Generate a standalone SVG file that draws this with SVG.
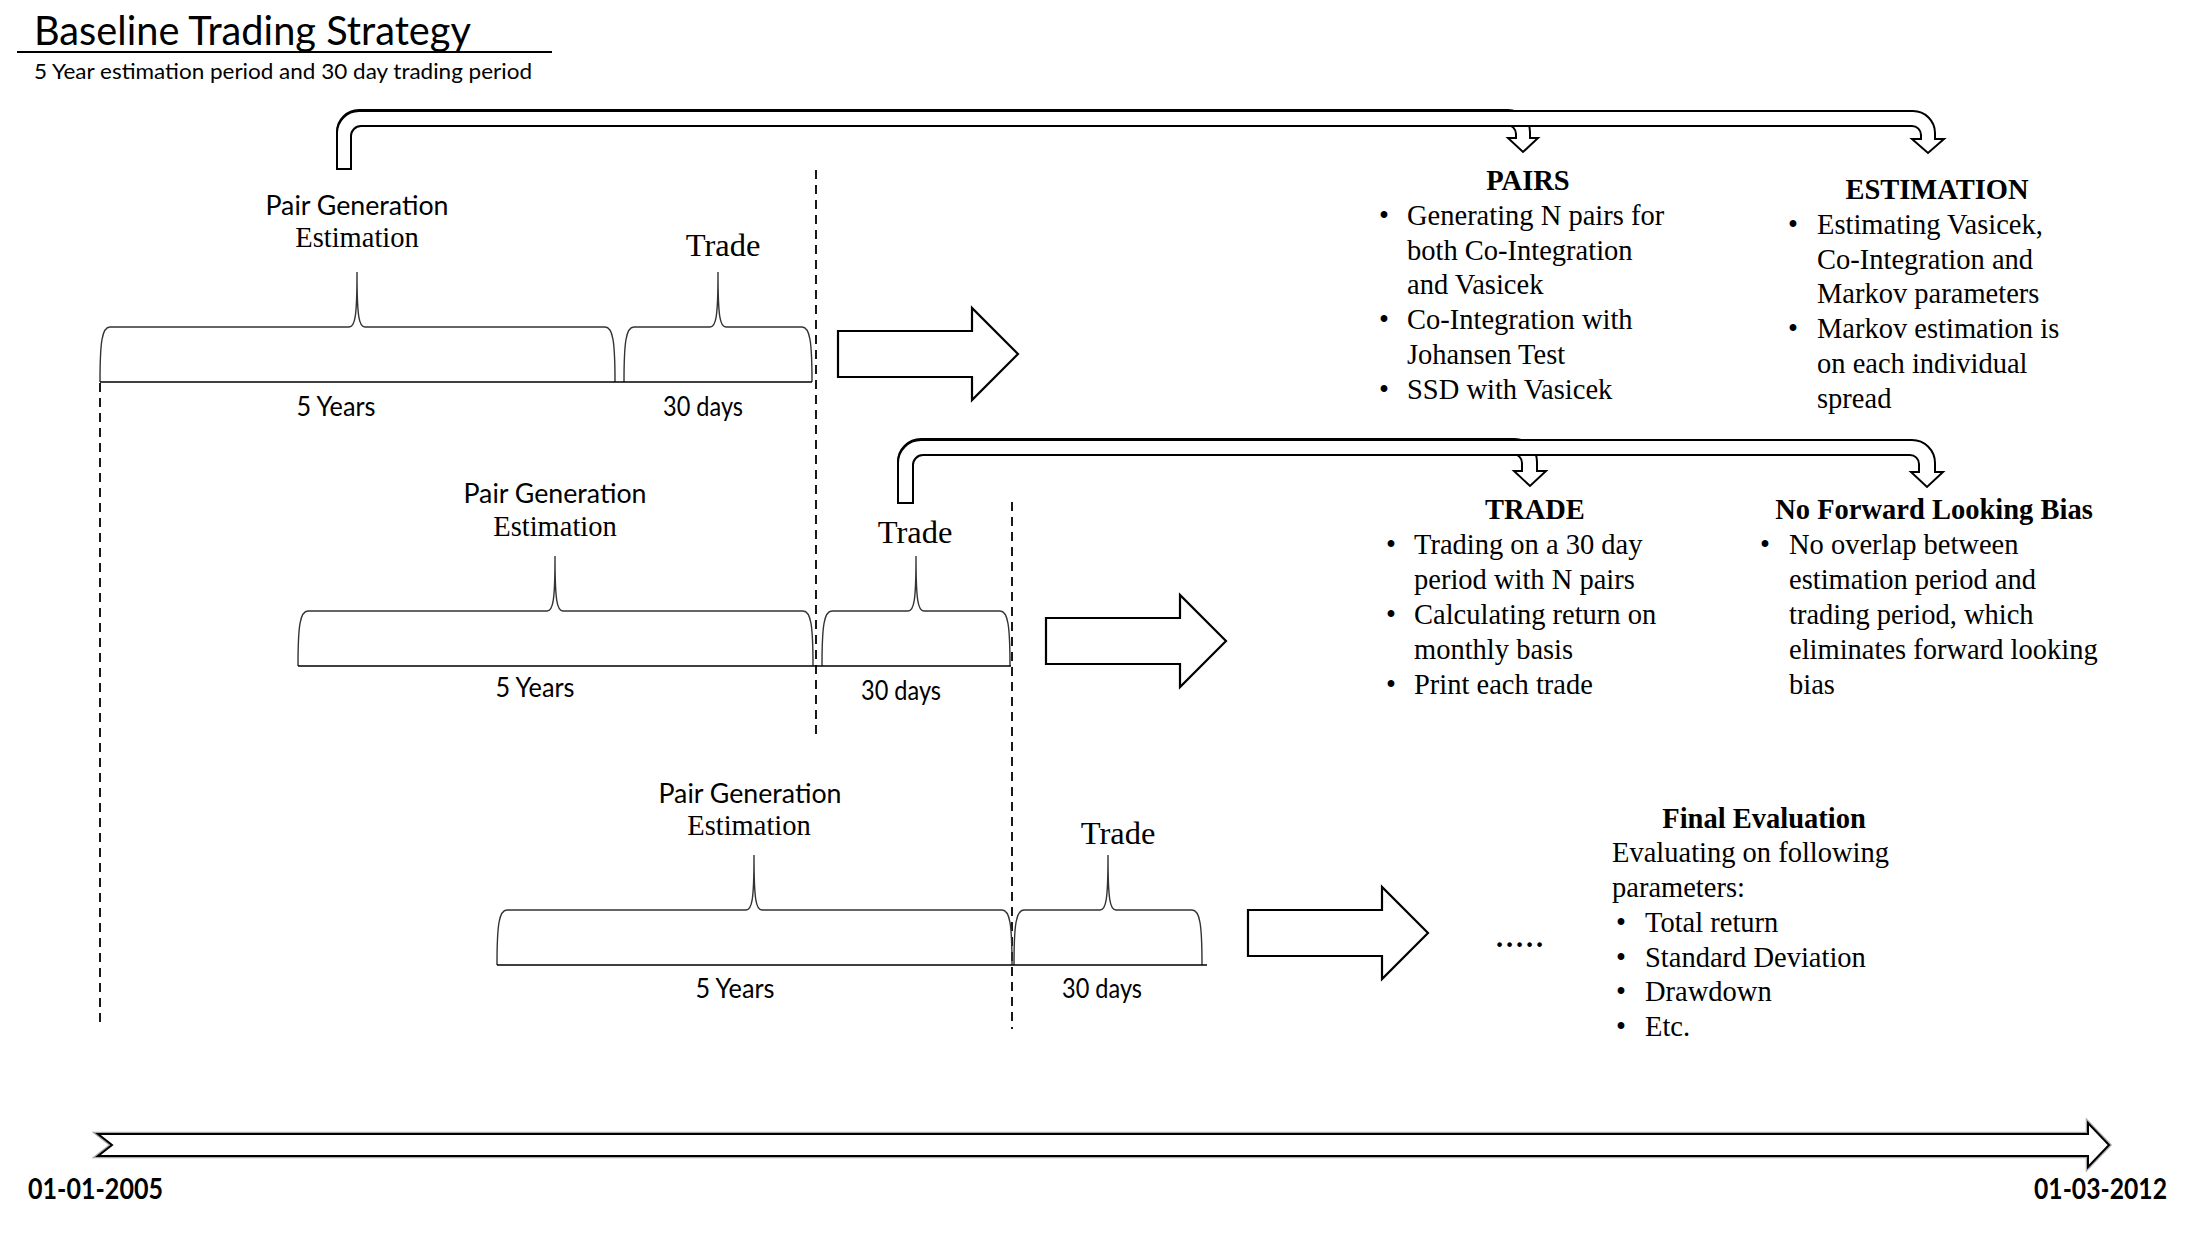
<svg xmlns="http://www.w3.org/2000/svg" xmlns:xlink="http://www.w3.org/1999/xlink" width="2204" height="1238" viewBox="0 0 2204 1238">
<style>
.sans{font-family:Lato,"Liberation Sans",sans-serif;fill:#000}
.serif{font-family:"Liberation Serif","Times New Roman",serif;fill:#000;font-size:28.5px}
.serif.big{font-size:32.5px}
.bold{font-weight:bold}
.mid{text-anchor:middle}
.brace{fill:none;stroke:#333;stroke-width:1.4}
.base{stroke:#000;stroke-width:1.6}
.dash{stroke:#000;stroke-width:1.8;stroke-dasharray:9,6;fill:none}
.block{fill:#fff;stroke:#000;stroke-width:2.2}
.bent{fill:#fff;stroke:#000;stroke-width:2}
</style>
<defs>
<path id="brace5y" d="M0,0 C0,-40 2,-55 10,-55 L249,-55 C255,-55 257,-65 257,-110 C257,-65 259,-55 265,-55 L505,-55 C513,-55 515,-40 515,0"/>
<path id="brace30" d="M0,0 C0,-40 2,-55 10,-55 L86,-55 C92,-55 94,-65 94,-110 C94,-65 96,-55 102,-55 L178,-55 C186,-55 188,-40 188,0"/>
<polygon id="blockArrow" points="0,-23 134,-23 134,-46 180,0 134,46 134,23 0,23"/>
</defs>
<rect width="2204" height="1238" fill="#fff"/>

<g id="header">
<text class="sans" x="34" y="45" font-size="40" textLength="437" lengthAdjust="spacingAndGlyphs">Baseline Trading Strategy</text>
<line x1="17" y1="52" x2="552" y2="52" stroke="#000" stroke-width="2"/>
<text class="sans" x="34" y="79" font-size="22" textLength="498" lengthAdjust="spacingAndGlyphs">5 Year estimation period and 30 day trading period</text>
</g>

<g id="connectors">
<line class="dash" x1="816" y1="170" x2="816" y2="735"/>
<line class="dash" x1="100" y1="383" x2="100" y2="1022"/>
<line class="dash" x1="1012" y1="502" x2="1012" y2="1029"/>
<path class="bent" d="M337,169 L337,132 A22,22 0 0 1 359,110 L1508,110 A22,22 0 0 1 1530,132 L1530,138 L1538,138 L1523,152 L1508,138 L1516,138 L1516,134 A9,9 0 0 0 1507,125 L361,125 A10,10 0 0 0 351,135 L351,169 Z"/>
<path class="bent" d="M337,169 L337,133 A22,22 0 0 1 359,111 L1913,111 A22,22 0 0 1 1935,133 L1935,139 L1944,139 L1928,153 L1912,139 L1921,139 L1921,135 A9,9 0 0 0 1912,126 L361,126 A10,10 0 0 0 351,136 L351,169 Z"/>
<path class="bent" d="M898,503 L898,462 A23,23 0 0 1 921,439 L1514,439 A23,23 0 0 1 1537,462 L1537,471 L1546,471 L1530,486 L1514,471 L1522,471 L1522,463 A9,9 0 0 0 1513,454 L923,454 A10,10 0 0 0 913,464 L913,503 Z"/>
<path class="bent" d="M898,503 L898,463 A23,23 0 0 1 921,440 L1912,440 A23,23 0 0 1 1935,463 L1935,472 L1943,472 L1927,487 L1911,472 L1919,472 L1919,464 A9,9 0 0 0 1910,455 L923,455 A10,10 0 0 0 913,465 L913,503 Z"/>
<use xlink:href="#blockArrow" href="#blockArrow" class="block" transform="translate(838,354)"/>
<use xlink:href="#blockArrow" href="#blockArrow" class="block" transform="translate(1046,641)"/>
<use xlink:href="#blockArrow" href="#blockArrow" class="block" transform="translate(1248,933)"/>
</g>

<g id="row1-estimation">
<use xlink:href="#brace5y" href="#brace5y" class="brace" transform="translate(100,382)"/>
<text class="sans mid" x="357" y="215" font-size="27" textLength="183" lengthAdjust="spacingAndGlyphs">Pair Generation</text>
<text class="serif mid" x="357" y="247">Estimation</text>
<text class="sans mid" x="336" y="416" font-size="26" textLength="79" lengthAdjust="spacingAndGlyphs">5 Years</text>
</g>
<g id="row1-trade">
<use xlink:href="#brace30" href="#brace30" class="brace" transform="translate(624,382)"/>
<text class="serif big mid" x="723" y="256">Trade</text>
<text class="sans mid" x="703" y="416" font-size="26" textLength="80" lengthAdjust="spacingAndGlyphs">30 days</text>
</g>
<line class="base" x1="100" y1="382" x2="812" y2="382"/>

<g id="row2-estimation">
<use xlink:href="#brace5y" href="#brace5y" class="brace" transform="translate(298,666)"/>
<text class="sans mid" x="555" y="503" font-size="27" textLength="183" lengthAdjust="spacingAndGlyphs">Pair Generation</text>
<text class="serif mid" x="555" y="536">Estimation</text>
<text class="sans mid" x="535" y="697" font-size="26" textLength="79" lengthAdjust="spacingAndGlyphs">5 Years</text>
</g>
<g id="row2-trade">
<use xlink:href="#brace30" href="#brace30" class="brace" transform="translate(822,666)"/>
<text class="serif big mid" x="915" y="543">Trade</text>
<text class="sans mid" x="901" y="700" font-size="26" textLength="80" lengthAdjust="spacingAndGlyphs">30 days</text>
</g>
<line class="base" x1="298" y1="666" x2="1011" y2="666"/>

<g id="row3-estimation">
<use xlink:href="#brace5y" href="#brace5y" class="brace" transform="translate(497,965)"/>
<text class="sans mid" x="750" y="803" font-size="27" textLength="183" lengthAdjust="spacingAndGlyphs">Pair Generation</text>
<text class="serif mid" x="749" y="835">Estimation</text>
<text class="sans mid" x="735" y="998" font-size="26" textLength="79" lengthAdjust="spacingAndGlyphs">5 Years</text>
</g>
<g id="row3-trade">
<use xlink:href="#brace30" href="#brace30" class="brace" transform="translate(1014,965)"/>
<text class="serif big mid" x="1118" y="844">Trade</text>
<text class="sans mid" x="1102" y="998" font-size="26" textLength="80" lengthAdjust="spacingAndGlyphs">30 days</text>
</g>
<line class="base" x1="497" y1="965" x2="1207" y2="965"/>

<g id="pairs">
<text class="serif bold mid" x="1528" y="190">PAIRS</text>
<text class="serif" x="1379" y="225">•</text>
<text class="serif" x="1407" y="225">Generating N pairs for</text>
<text class="serif" x="1407" y="259.7">both Co-Integration</text>
<text class="serif" x="1407" y="294.4">and Vasicek</text>
<text class="serif" x="1379" y="329.1">•</text>
<text class="serif" x="1407" y="329.1">Co-Integration with</text>
<text class="serif" x="1407" y="363.8">Johansen Test</text>
<text class="serif" x="1379" y="398.5">•</text>
<text class="serif" x="1407" y="398.5">SSD with Vasicek</text>
</g>

<g id="estimation">
<text class="serif bold mid" x="1937" y="199">ESTIMATION</text>
<text class="serif" x="1788" y="234">•</text>
<text class="serif" x="1817" y="234">Estimating Vasicek,</text>
<text class="serif" x="1817" y="268.7">Co-Integration and</text>
<text class="serif" x="1817" y="303.4">Markov parameters</text>
<text class="serif" x="1788" y="338.1">•</text>
<text class="serif" x="1817" y="338.1">Markov estimation is</text>
<text class="serif" x="1817" y="372.8">on each individual</text>
<text class="serif" x="1817" y="407.5">spread</text>
</g>

<g id="trade">
<text class="serif bold mid" x="1535" y="519">TRADE</text>
<text class="serif" x="1386" y="554">•</text>
<text class="serif" x="1414" y="554">Trading on a 30 day</text>
<text class="serif" x="1414" y="589">period with N pairs</text>
<text class="serif" x="1386" y="624">•</text>
<text class="serif" x="1414" y="624">Calculating return on</text>
<text class="serif" x="1414" y="659">monthly basis</text>
<text class="serif" x="1386" y="694">•</text>
<text class="serif" x="1414" y="694">Print each trade</text>
</g>

<g id="no-forward-looking-bias">
<text class="serif bold mid" x="1934" y="519">No Forward Looking Bias</text>
<text class="serif" x="1760" y="554">•</text>
<text class="serif" x="1789" y="554">No overlap between</text>
<text class="serif" x="1789" y="589">estimation period and</text>
<text class="serif" x="1789" y="624">trading period, which</text>
<text class="serif" x="1789" y="659">eliminates forward looking</text>
<text class="serif" x="1789" y="694">bias</text>
</g>

<g id="ellipsis">
<text class="serif bold" x="1496" y="947" textLength="47" lengthAdjust="spacing">.....</text>
</g>

<g id="final-evaluation">
<text class="serif bold mid" x="1764" y="828">Final Evaluation</text>
<text class="serif" x="1612" y="862">Evaluating on following</text>
<text class="serif" x="1612" y="897">parameters:</text>
<text class="serif" x="1616" y="932">•</text>
<text class="serif" x="1645" y="932">Total return</text>
<text class="serif" x="1616" y="967">•</text>
<text class="serif" x="1645" y="967">Standard Deviation</text>
<text class="serif" x="1616" y="1001">•</text>
<text class="serif" x="1645" y="1001">Drawdown</text>
<text class="serif" x="1616" y="1036">•</text>
<text class="serif" x="1645" y="1036">Etc.</text>
</g>

<g id="timeline">
<polygon points="98,1134 2088,1134 2088,1123 2109,1145 2088,1167 2088,1156 98,1156 112,1145" fill="#fff" stroke="#aaa" stroke-width="4.5"/>
<polygon points="98,1134 2088,1134 2088,1123 2109,1145 2088,1167 2088,1156 98,1156 112,1145" fill="#fff" stroke="#000" stroke-width="2"/>
<text class="sans bold" x="28" y="1199" font-size="29" textLength="135" lengthAdjust="spacingAndGlyphs">01-01-2005</text>
<text class="sans bold" x="2034" y="1199" font-size="29" textLength="133" lengthAdjust="spacingAndGlyphs">01-03-2012</text>
</g>
</svg>
